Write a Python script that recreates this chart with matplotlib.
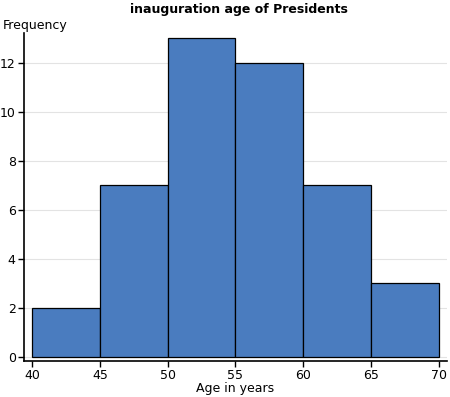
import matplotlib
matplotlib.use("Agg")
import matplotlib.pyplot as plt

# 히스토그램 데이터
bin_edges = [40, 45, 50, 55, 60, 65, 70]
counts = [2, 7, 13, 12, 7, 3]
x_ticks = [40, 45, 50, 55, 60, 65, 70]
y_ticks = [0, 2, 4, 6, 8, 10, 12]

plt.rcParams["font.family"] = "DejaVu Sans"

fig = plt.figure(figsize=(4.5, 3.97), dpi=100)
ax = fig.add_axes([0.0533, 0.0907, 0.94, 0.826])

widths = [bin_edges[i + 1] - bin_edges[i] for i in range(len(counts))]
ax.bar(bin_edges[:-1], counts, width=widths, align="edge",
       color="#4a7cbf", edgecolor="black", linewidth=0.9, zorder=2)

ax.set_xlim(39.41, 70.59)
ax.set_ylim(-0.163, 13.22)
ax.set_xticks(x_ticks)
ax.set_yticks(y_ticks)
ax.tick_params(labelsize=9, direction="out", length=4, width=1, pad=2)
ax.yaxis.grid(True, color="#e3e3e3", linewidth=0.8, zorder=0)
ax.set_axisbelow(True)

for s in ["top", "right"]:
    ax.spines[s].set_visible(False)
ax.spines["left"].set_linewidth(1.2)
ax.spines["bottom"].set_linewidth(1.2)

ax.set_xlabel("Age in years", fontsize=9, labelpad=0)
fig.text(0.005, 0.937, "Frequency", fontsize=9, ha="left", va="center")
fig.text(0.53, 0.975, "inauguration age of Presidents", fontsize=9,
         fontweight="bold", ha="center", va="center")

fig.savefig("out.png", dpi=100)
